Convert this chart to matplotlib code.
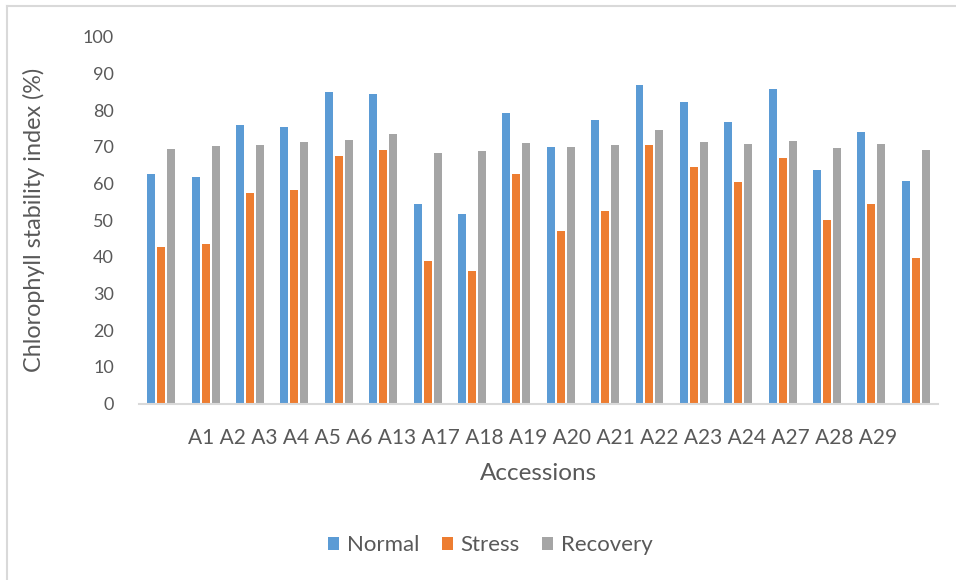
import numpy as np
import matplotlib
matplotlib.use("Agg")
import matplotlib.pyplot as plt
from matplotlib.lines import Line2D

plt.rcParams['font.family'] = ['Lato', 'DejaVu Sans']

# Chlorophyll stability index (%) per accession
accessions = ['A1', 'A2', 'A3', 'A4', 'A5', 'A6', 'A13', 'A17', 'A18',
              'A19', 'A20', 'A21', 'A22', 'A23', 'A24', 'A27', 'A28', 'A29']
normal = [62.6, 61.8, 76.0, 75.4, 85.0, 84.4, 54.4, 51.7, 79.2,
          70.0, 77.4, 86.9, 82.2, 76.8, 85.8, 63.7, 74.1, 60.7]
stress = [42.7, 43.5, 57.4, 58.2, 67.5, 69.1, 38.9, 36.1, 62.6,
          47.0, 52.5, 70.5, 64.5, 60.4, 67.0, 50.0, 54.4, 39.7]
recovery = [69.4, 70.2, 70.5, 71.3, 71.8, 73.5, 68.3, 68.9, 71.0,
            70.0, 70.5, 74.6, 71.3, 70.8, 71.6, 69.7, 70.8, 69.1]

txt = '#595959'
fig = plt.figure(figsize=(9.56, 5.8), dpi=100)
ax = fig.add_axes([0.1454, 0.3043, 0.8358, 0.6324])

x = np.arange(len(accessions))
w = 0.18
step = 0.225
ax.bar(x - step, normal, w, color='#5B9BD5', label='Normal')
ax.bar(x, stress, w, color='#ED7D31', label='Stress')
ax.bar(x + step, recovery, w, color='#A5A5A5', label='Recovery')

ax.set_xlim(-0.5, len(accessions) - 0.5)
ax.set_ylim(0, 100)
ax.set_yticks(range(0, 101, 10))
ax.tick_params(axis='y', length=0, labelsize=13, colors=txt, pad=18)
ax.set_xticks([])
for s in ['top', 'right', 'left']:
    ax.spines[s].set_visible(False)
ax.spines['bottom'].set_color('#D9D9D9')
ax.spines['bottom'].set_linewidth(1.5)

# accession names run together as one line under the axis
ax.text(0.505, -0.093, ' '.join(accessions), transform=ax.transAxes,
        ha='center', va='center', fontsize=15, color=txt)
ax.text(0.5, -0.19, 'Accessions', transform=ax.transAxes,
        ha='center', va='center', fontsize=17.5, color=txt)
fig.text(0.035, 0.62, 'Chlorophyll stability index (%)', rotation=90,
         ha='center', va='center', fontsize=16.8, color=txt)

fig.legend(loc='center', bbox_to_anchor=(0.513, 0.06), ncol=3, frameon=False,
           fontsize=16, labelcolor=txt, handlelength=0.5, handleheight=0.5,
           handletextpad=0.35, columnspacing=1.0)

# chart frame
fig.add_artist(Line2D([0.0068, 0.0068], [0, 0.9895], color='#D9D9D9', lw=1.5))
fig.add_artist(Line2D([0.0068, 1], [0.9895, 0.9895], color='#D9D9D9', lw=1.5))

fig.savefig('out.png', dpi=100)
